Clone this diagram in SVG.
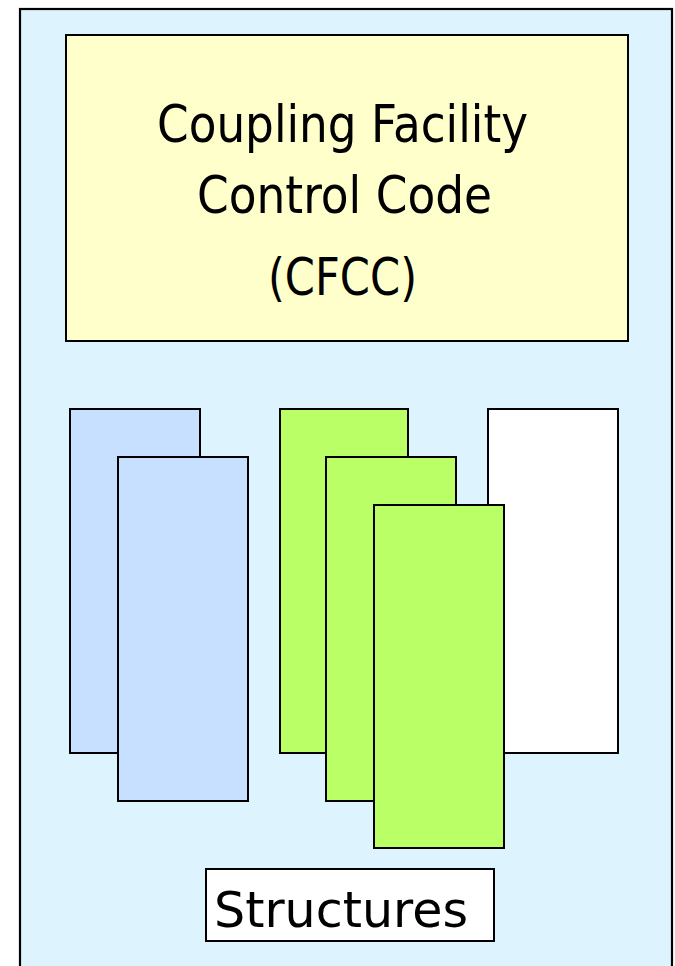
<svg xmlns="http://www.w3.org/2000/svg" width="675" height="966" viewBox="0 0 675 966">
  <style>
    .box { stroke: #000000; stroke-width: 2; }
    .frame { fill: #DDF4FF; stroke: #000000; stroke-width: 2.2; }
    .cfcc { fill: #FFFFCC; }
    .blue { fill: #C8E0FF; }
    .green { fill: #BBFF66; }
    .white { fill: #FFFFFF; }
    .label { font-family: "DejaVu Sans", "Open Sans", sans-serif; fill: #000000; }
  </style>
  <rect x="0" y="0" width="675" height="966" fill="#FFFFFF"/>
  <g id="coupling-facility">
    <rect class="frame" x="20" y="9" width="652" height="975"/>
  </g>
  <g id="cfcc">
    <rect class="box cfcc" x="66" y="35" width="562" height="306"/>
    <text class="label" x="157" y="142" font-size="52" textLength="371" lengthAdjust="spacingAndGlyphs">Coupling Facility</text>
    <text class="label" x="197" y="213" font-size="52" textLength="295" lengthAdjust="spacingAndGlyphs">Control Code</text>
    <text class="label" x="268" y="295" font-size="52" textLength="149" lengthAdjust="spacingAndGlyphs">(CFCC)</text>
  </g>
  <g id="structure-blue-1">
    <rect class="box blue" x="70" y="409" width="130" height="344"/>
  </g>
  <g id="structure-blue-2">
    <rect class="box blue" x="118" y="457" width="130" height="344"/>
  </g>
  <g id="structure-green-1">
    <rect class="box green" x="280" y="409" width="128" height="344"/>
  </g>
  <g id="structure-green-2">
    <rect class="box green" x="326" y="457" width="130" height="344"/>
  </g>
  <g id="structure-white">
    <rect class="box white" x="488" y="409" width="130" height="344"/>
  </g>
  <g id="structure-green-3">
    <rect class="box green" x="374" y="505" width="130" height="343"/>
  </g>
  <g id="structures-label">
    <rect class="box white" x="206" y="869" width="288" height="72"/>
    <text class="label" x="214" y="927" font-size="49" textLength="254" lengthAdjust="spacingAndGlyphs">Structures</text>
  </g>
</svg>
